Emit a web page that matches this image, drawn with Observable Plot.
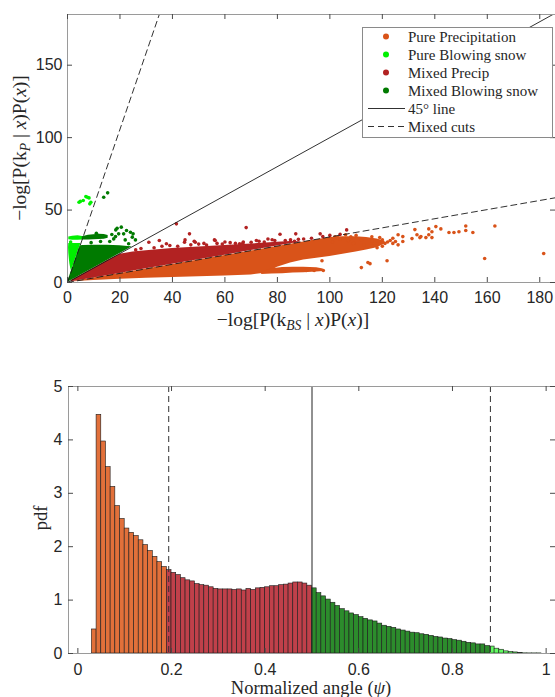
<!DOCTYPE html>
<html><head><meta charset="utf-8">
<script src="https://cdn.jsdelivr.net/npm/d3@7"></script>
<script src="https://cdn.jsdelivr.net/npm/@observablehq/plot@0.6"></script>
<style>
html,body{margin:0;padding:0;background:#fff;overflow:hidden;}
#wrap{position:relative;width:555px;height:697px;overflow:hidden;}
.panel{position:absolute;left:0;}
.lbl{position:absolute;font-family:"Liberation Serif","Times New Roman",serif;font-size:18.5px;color:#262626;white-space:nowrap;transform:translate(-50%,-50%);line-height:1;}
.big{font-size:19.5px;}
.rot{transform:translate(-50%,-50%) rotate(-90deg);}
.lbl sub{font-size:0.7em;vertical-align:-0.3em;line-height:0;}
</style></head>
<body>
<div id="wrap">
  <div id="topPanel" class="panel" style="top:0"></div>
  <div id="botPanel" class="panel" style="top:340px"></div>
  <div class="lbl big rot" style="left:20px;top:148px">−log[P(k<sub><i>P</i></sub> | <i>x</i>)P(<i>x</i>)]</div>
  <div class="lbl big" style="left:293px;top:320px">−log[P(k<sub><i>BS</i></sub> | <i>x</i>)P(<i>x</i>)]</div>
  <div class="lbl rot" style="left:41px;top:518px">pdf</div>
  <div class="lbl" style="left:311px;top:688px">Normalized angle (<i>ψ</i>)</div>
</div>
<script>
// ---------- ticks ----------
const xTicksTop = [0, 20, 40, 60, 80, 100, 120, 140, 160, 180];
const yTicksTop = [0, 50, 100, 150];
const xTicksBot = [0, 0.2, 0.4, 0.6, 0.8, 1];
const xTickLabelsBot = ["0", "0.2", "0.4", "0.6", "0.8", "1"];
const yTicksBot = [0, 1, 2, 3, 4, 5];

// ---------- classes ----------
const seriesNames = ["Pure Precipitation", "Pure Blowing snow", "Mixed Precip", "Mixed Blowing snow"];
const seriesColors = ["#D95319", "#00F000", "#B22222", "#007A00"];
const histColors = ["#E2703A", "#C0404A", "#2C8C2C", "#62FA62"];
const lineNames = ["45° line", "Mixed cuts"];
const mixedCuts = [0.194, 0.881];   // normalized angle of the dashed cuts
const line45 = [0.5];

// ---------- top panel: dense regions ----------
const ppCoreX  = [1.5, 5, 10, 20, 30, 40, 50, 60, 70, 76, 80, 85, 90, 95, 100, 105, 110, 114, 118, 121];
const ppCoreLo = [0.4, 0.8, 1.3, 2.2, 2.9, 3.5, 4.0, 4.5, 5.2, 6.5, 10.5, 13.5, 15.5, 16.8, 18, 19.5, 21, 22.5, 24, 26.5];
const ppCoreHi = [0.47, 1.57, 3.1, 6.2, 9.3, 12.4, 15.5, 18.6, 21.7, 23.6, 24.8, 26.4, 27.9, 29.5, 31, 31.5, 31.5, 31, 30, 28.5];
const ppStreakX  = [74, 78, 82, 86, 90, 95, 97.5];
const ppStreakLo = [5.5, 5.8, 6.1, 6.5, 6.8, 7.2, 7.6];
const ppStreakHi = [7.0, 9.5, 10.4, 10.6, 10.6, 10.2, 9.4];
const mpX  = [1.5, 5, 10, 15, 20, 25, 30, 40, 50, 60, 70, 80, 85, 89];
const mpHi = [1.5, 5, 10, 15, 19.5, 21, 22, 23.5, 24.5, 25.5, 26.5, 27.8, 28.3, 28.1];
const mbX  = [0.2, 1, 2, 3, 4, 4.8, 6, 10, 15, 20, 23, 24.6];
const mbHi = [1.06, 5.3, 10.6, 15.9, 21.2, 25.4, 25.6, 25.8, 25.8, 25.4, 24.8, 24.6];
const mbBandX  = [5.6, 8, 10, 12, 14, 15.5];
const mbBandLo = [29.3, 29.3, 29.5, 29.6, 29.9, 30.5];
const mbBandHi = [31.6, 32.6, 33.0, 33.3, 33.2, 32.4];
const pbBandX  = [0.5, 2, 4, 5.7];
const pbBandLo = [29.5, 29.2, 29.2, 29.3];
const pbBandHi = [31.4, 32.0, 32.2, 31.8];
const pbBlobY  = [8, 10, 13, 16, 20, 24, 27];
const pbBlobLo = [1.5, 1.2, 0.9, 0.7, 0.5, 0.4, 0.5];
const pbBlobHi = [1.51, 1.89, 2.46, 3.02, 3.78, 4.54, 5.1];

// ---------- top panel: scattered points ----------
const ppOutX = [91, 94, 97.5, 97, 102, 106, 110, 112, 114.5, 115.3, 116, 119, 120, 117, 121, 121.8, 123, 124, 125, 126, 127.8, 127.8, 131.3, 132.4, 133.2, 134.3, 134.7, 136.6, 137.7, 138.9, 137.7, 138.9, 140.4, 142.3, 145.4, 147.3, 149.2, 151.8, 151.8, 154.5, 159, 162.9, 181.5,
  101, 104, 107, 109, 112, 113, 116, 118, 120, 122, 119, 124, 126, 103, 108];
const ppOutY = [8.3, 8.3, 8.3, 15, 31.5, 33, 32.5, 10.3, 13.8, 13, 31.5, 31, 29.5, 27, 27, 15, 29, 30.5, 28.3, 33, 31.7, 28.3, 30.3, 36.5, 33, 31, 31.7, 31, 37, 35, 33, 31, 38.6, 37, 34.5, 34.5, 35, 39, 35.9, 34.5, 16.6, 39, 20,
  28, 30, 29, 27, 29.5, 26, 28.5, 24, 25, 28, 27.5, 27, 26, 31, 31.5];
const mpOutX = [31, 35, 37.7, 41.5, 44.6, 44.8, 46.5, 48.3, 48.7, 52, 56, 56.3, 60, 65.6, 66.8, 68.1, 72, 76.4, 78, 81, 85, 86.5, 87, 90, 93, 96.3, 97.3, 100, 103.9, 106.4,
  26, 28, 33, 36, 39, 42, 47, 50, 53, 57, 59, 62, 64, 67, 70, 73, 75, 79, 83, 88];
const mpOutY = [27.8, 29, 26.7, 40.5, 27.8, 29.4, 33.6, 28.5, 27.8, 27, 29.4, 29, 28, 26.7, 27.1, 37.9, 29, 30, 29.5, 33.3, 29.5, 28.5, 33.6, 30, 30.5, 33.6, 31.7, 32.5, 33.2, 36.3,
  22.5, 23.5, 24, 25, 25.5, 25, 26, 26.5, 25.8, 27, 26.5, 27.5, 27, 28, 27.8, 28.5, 28, 29, 29, 29.8];
const mbOutX = [12.6, 13.8, 15.3, 16.1, 16.9, 17.6, 18.3, 18.4, 18.9, 19.5, 20.5, 21.4, 22, 22.5, 23.3, 24, 24.7, 25, 25.9, 9, 11];
const mbOutY = [28.3, 58.8, 61.9, 28.3, 33.1, 30.1, 31.7, 36.3, 37.5, 33.6, 38.2, 33.6, 29.4, 35.9, 26.7, 34.7, 31.3, 33.6, 29.4, 27.5, 34];
const pbOutX = [4.4, 4.9, 6, 7, 7.6, 8.2, 8.9, 8.5, 1.8, 1.2];
const pbOutY = [55.4, 56, 56.6, 59.3, 58.8, 58.4, 55.4, 54.3, 24.8, 28];

// ---------- histogram ----------
const binStart = 0.03, binWidth = 0.01;
const pdfValues = [
  0.45, 4.47, 3.97, 3.49, 3.12, 2.76, 2.52, 2.34, 2.26, 2.20, 2.12, 2.03, 1.92, 1.81, 1.71, 1.62,
  1.56, 1.51, 1.47, 1.41, 1.37, 1.35, 1.30, 1.28, 1.27, 1.24, 1.21, 1.20, 1.20, 1.20, 1.19, 1.20,
  1.18, 1.21, 1.19, 1.22, 1.23, 1.24, 1.26, 1.26, 1.28, 1.29, 1.31, 1.33, 1.33, 1.31, 1.27,
  1.22, 1.13, 1.07, 1.01, 0.95, 0.89, 0.83, 0.79, 0.75, 0.72, 0.68, 0.65, 0.62, 0.60, 0.56, 0.52,
  0.50, 0.48, 0.45, 0.43, 0.41, 0.39, 0.38, 0.36, 0.35, 0.33, 0.31, 0.30, 0.28, 0.27, 0.25, 0.24,
  0.22, 0.20, 0.19, 0.17, 0.17, 0.14,
  0.13, 0.09, 0.07, 0.04, 0.03, 0.02, 0.01, 0.003, 0.002, 0.002, 0.002
];

// ---------- build ----------
const slopeOf = psi => Math.tan(psi * Math.PI / 2);
const shallow = slopeOf(mixedCuts[0]);
const zipXY = (xs, ys) => xs.map((x, i) => ({x, y: ys[i]}));
const band = (xs, lo, hi) => xs.map((x, i) => ({x, lo: lo[i], hi: hi[i]}));

const X_MAX = 186, Y_MAX = 185;
const TW = 555, TH = 340, TML = 67, TMR = 0, TMT = 14, TMB = 58;
const tfw = TW - TML - TMR, tfh = TH - TMT - TMB;
const tickLen = 5;
const frameColor = "#9a9a9a", tickColor = "#4a4a4a", textColor = "#262626";
const axisFont = {fontFamily: "'Liberation Sans', Arial, Helvetica, sans-serif", fontSize: "16px", color: textColor, background: "white"};
const R = 1.8;

const cutLines = [...line45, ...mixedCuts].map(psi => ({psi, pts: [[0, 0], [X_MAX, X_MAX * slopeOf(psi)]]}));

const topPlot = Plot.plot({
  width: TW, height: TH, marginLeft: TML, marginRight: TMR, marginTop: TMT, marginBottom: TMB,
  x: {domain: [0, X_MAX], label: null},
  y: {domain: [0, Y_MAX], label: null},
  style: axisFont,
  marks: [
    Plot.areaY(band(ppCoreX, ppCoreLo, ppCoreHi), {x: "x", y1: "lo", y2: "hi", fill: seriesColors[0], curve: "linear"}),
    Plot.areaY(band(ppStreakX, ppStreakLo, ppStreakHi), {x: "x", y1: "lo", y2: "hi", fill: seriesColors[0], curve: "linear"}),
    Plot.dot(zipXY(ppOutX, ppOutY), {x: "x", y: "y", r: R, fill: seriesColors[0]}),
    Plot.areaX(pbBlobY.map((y, i) => ({y, lo: pbBlobLo[i], hi: pbBlobHi[i]})), {y: "y", x1: "lo", x2: "hi", fill: seriesColors[1], curve: "linear"}),
    Plot.areaY(band(pbBandX, pbBandLo, pbBandHi), {x: "x", y1: "lo", y2: "hi", fill: seriesColors[1], curve: "linear"}),
    Plot.dot(zipXY(pbOutX, pbOutY), {x: "x", y: "y", r: R, fill: seriesColors[1]}),
    Plot.areaY(mpX.map((x, i) => ({x, lo: x * shallow, hi: mpHi[i]})), {x: "x", y1: "lo", y2: "hi", fill: seriesColors[2], curve: "linear"}),
    Plot.dot(zipXY(mpOutX, mpOutY), {x: "x", y: "y", r: R, fill: seriesColors[2]}),
    Plot.areaY(mbX.map((x, i) => ({x, lo: x, hi: mbHi[i]})), {x: "x", y1: "lo", y2: "hi", fill: seriesColors[3], curve: "linear"}),
    Plot.areaY(band(mbBandX, mbBandLo, mbBandHi), {x: "x", y1: "lo", y2: "hi", fill: seriesColors[3], curve: "linear"}),
    Plot.dot(zipXY(mbOutX, mbOutY), {x: "x", y: "y", r: R, fill: seriesColors[3]}),
    ...cutLines.map(c => Plot.line(c.pts, {
      stroke: "#1a1a1a", strokeWidth: 0.9, clip: true,
      strokeDasharray: c.psi === 0.5 ? null : "6,4"
    })),
    Plot.frame({stroke: frameColor, strokeWidth: 1}),
    Plot.tickX(xTicksTop, {x: d => d, insetTop: tfh - tickLen, stroke: tickColor}),
    Plot.tickX(xTicksTop, {x: d => d, insetBottom: tfh - tickLen, stroke: tickColor}),
    Plot.tickY(yTicksTop, {y: d => d, insetRight: tfw - tickLen, stroke: tickColor}),
    Plot.tickY(yTicksTop, {y: d => d, insetLeft: tfw - tickLen, stroke: tickColor}),
    Plot.axisX({ticks: xTicksTop, tickSize: 0, tickPadding: 9, tickFormat: d => String(d), label: null}),
    Plot.axisY({ticks: yTicksTop, tickSize: 0, tickPadding: 5, tickFormat: d => String(d), label: null})
  ]
});
document.getElementById("topPanel").appendChild(topPlot);

// ---------- bottom histogram ----------
const BW = 555, BH = 357, BML = 68, BMR = 0, BMT = 46, BMB = 44;
const bfw = BW - BML - BMR, bfh = BH - BMT - BMB;
const bins = pdfValues.map((v, i) => {
  const x1 = binStart + i * binWidth, x2 = x1 + binWidth, c = (x1 + x2) / 2;
  const k = c < mixedCuts[0] ? 0 : c < line45[0] ? 1 : c < mixedCuts[1] ? 2 : 3;
  return {x1, x2, y: v, fill: histColors[k]};
});

const botPlot = Plot.plot({
  width: BW, height: BH, marginLeft: BML, marginRight: BMR, marginTop: BMT, marginBottom: BMB,
  x: {domain: [-0.02, 1.02], label: null},
  y: {domain: [0, 5], label: null},
  color: {type: "identity"},
  style: axisFont,
  marks: [
    Plot.rectY(bins, {x1: "x1", x2: "x2", y: "y", fill: "fill", stroke: "#1c1c1c", strokeWidth: 0.6}),
    Plot.ruleX(mixedCuts, {x: d => d, stroke: "#333", strokeWidth: 1, strokeDasharray: "6,4"}),
    Plot.ruleX(line45, {x: d => d, stroke: "#222", strokeWidth: 1}),
    Plot.frame({stroke: frameColor, strokeWidth: 1}),
    Plot.tickX(xTicksBot, {x: d => d, insetTop: bfh - tickLen, stroke: tickColor}),
    Plot.tickX(xTicksBot, {x: d => d, insetBottom: bfh - tickLen, stroke: tickColor}),
    Plot.tickY(yTicksBot, {y: d => d, insetRight: bfw - tickLen, stroke: tickColor}),
    Plot.tickY(yTicksBot, {y: d => d, insetLeft: bfw - tickLen, stroke: tickColor}),
    Plot.axisX({ticks: xTicksBot, tickSize: 0, tickPadding: 10, tickFormat: (d) => xTickLabelsBot[xTicksBot.indexOf(d)], label: null}),
    Plot.axisY({ticks: yTicksBot, tickSize: 0, tickPadding: 6, tickFormat: d => String(d), label: null})
  ]
});
document.getElementById("botPanel").appendChild(botPlot);

// ---------- legend (overlay on top panel) ----------
const LX = 362, LY = 27, LW = 190, LH = 110;
const lg = d3.select("#wrap").append("svg")
  .attr("width", LW + 1).attr("height", LH + 1)
  .style("position", "absolute").style("left", LX + "px").style("top", LY + "px");
lg.append("rect").attr("x", 0.5).attr("y", 0.5).attr("width", LW).attr("height", LH)
  .attr("fill", "white").attr("stroke", "#8a8a8a").attr("stroke-width", 1);
const rowY = i => 9.5 + i * 18;
seriesNames.forEach((name, i) => {
  lg.append("circle").attr("cx", 24).attr("cy", rowY(i)).attr("r", 3).attr("fill", seriesColors[i]);
  lg.append("text").attr("x", 46).attr("y", rowY(i)).attr("dy", "0.35em")
    .style("font-family", "'Liberation Serif','Times New Roman',serif").style("font-size", "15px")
    .attr("fill", textColor).text(name);
});
lineNames.forEach((name, j) => {
  const i = seriesNames.length + j;
  lg.append("line").attr("x1", 6).attr("x2", 43).attr("y1", rowY(i)).attr("y2", rowY(i))
    .attr("stroke", "#1a1a1a").attr("stroke-width", 0.9)
    .attr("stroke-dasharray", j === 1 ? "6,4" : null);
  lg.append("text").attr("x", 46).attr("y", rowY(i)).attr("dy", "0.35em")
    .style("font-family", "'Liberation Serif','Times New Roman',serif").style("font-size", "15px")
    .attr("fill", textColor).text(name);
});
</script>
</body></html>
